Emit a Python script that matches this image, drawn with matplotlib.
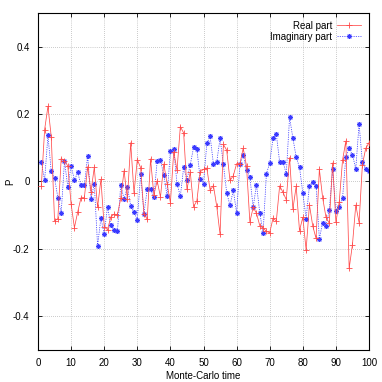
import numpy as np
import matplotlib
matplotlib.use('Agg')
import matplotlib.pyplot as plt

plt.rcParams['font.family'] = ['Liberation Sans Narrow', 'Liberation Sans', 'DejaVu Sans']

# Monte-Carlo time steps
t = np.arange(1, 101)

# real part of P
real_part = [-0.013, 0.154, 0.223, 0.133, -0.117, -0.110, 0.068, 0.062, 0.046, -0.067,
             -0.137, -0.090, -0.048, -0.048, 0.044, -0.030, 0.042, -0.077, 0.006, -0.134,
             -0.143, -0.105, -0.097, -0.098, -0.050, 0.032, -0.052, 0.115, -0.034, 0.065,
             0.041, -0.096, -0.112, 0.067, -0.040, 0.002, -0.046, 0.052, -0.007, -0.063,
             0.088, 0.034, 0.163, 0.144, -0.023, 0.028, -0.075, -0.057, 0.029, 0.036,
             0.040, -0.026, -0.012, -0.074, -0.157, 0.110, 0.093, 0.003, 0.017, 0.053,
             0.053, 0.099, 0.045, -0.120, -0.077, -0.094, -0.131, -0.138, -0.148, -0.152,
             -0.109, -0.117, -0.013, -0.032, -0.054, 0.071, -0.082, -0.014, -0.146, -0.106,
             -0.203, -0.069, -0.132, -0.169, 0.036, -0.049, -0.106, -0.124, 0.055, -0.121,
             -0.061, 0.063, 0.120, -0.258, -0.187, -0.070, -0.122, 0.050, 0.098, 0.115]

# imaginary part of P
imag_part = [0.057, 0.004, 0.137, 0.030, 0.010, -0.048, -0.093, 0.060, -0.016, 0.046,
             0.004, 0.027, -0.011, -0.011, 0.076, -0.052, -0.006, -0.191, -0.108, -0.156,
             -0.075, -0.130, -0.145, -0.147, -0.009, -0.053, -0.015, -0.072, -0.090, -0.114,
             0.022, -0.095, -0.023, -0.023, -0.047, 0.061, 0.063, 0.019, -0.042, 0.091,
             0.095, -0.007, -0.044, 0.042, 0.005, 0.050, 0.101, 0.095, 0.008, -0.006,
             0.113, 0.134, 0.051, 0.058, 0.128, 0.051, -0.033, -0.071, -0.026, -0.093,
             0.051, 0.079, 0.034, 0.014, -0.077, -0.009, -0.093, -0.152, 0.023, 0.054,
             0.130, 0.140, 0.058, 0.058, 0.023, 0.190, 0.129, 0.072, 0.042, -0.034,
             -0.110, -0.012, -0.001, -0.012, -0.170, -0.122, -0.131, -0.085, 0.036, -0.087,
             -0.076, -0.050, 0.073, 0.098, 0.079, 0.038, 0.171, 0.057, 0.038, 0.031]

xticks = list(range(0, 101, 10))
yticks = [-0.4, -0.2, 0, 0.2, 0.4]
ytick_labels = ['-0.4', '-0.2', '0', '0.2', '0.4']

fig = plt.figure(figsize=(3.82, 3.82), dpi=100)
ax = fig.add_axes([0.0995, 0.0838, 0.8665, 0.8822])

ax.plot(t, real_part, color='#ff4a4a', lw=0.55, marker='+', ms=4, mew=0.6,
        label='Real part', zorder=3)
ax.plot(t, imag_part, color='#3a3aff', lw=0.55, ls=(0, (1.5, 1.5)), marker=(8, 2, 0),
        ms=3.6, mew=0.7, label='Imaginary part', zorder=2)

ax.set_xlim(0, 100)
ax.set_ylim(-0.5, 0.5)
ax.set_xticks(xticks)
ax.set_yticks(yticks)
ax.set_yticklabels(ytick_labels)
ax.tick_params(direction='in', length=3, width=0.6, labelsize=7, top=True, right=True, pad=6)
ax.grid(True, color='#999999', ls=(0, (1, 2)), lw=0.5)
for s in ax.spines.values():
    s.set_linewidth(0.8)

ax.set_xlabel('Monte-Carlo time', fontsize=7, labelpad=2)
ax.set_ylabel('P', fontsize=7, rotation=90, va='center')
ax.yaxis.set_label_coords(-0.085, 0.5)

ax.legend(loc='upper right', frameon=False, markerfirst=False, fontsize=7,
          handlelength=2.5, borderaxespad=0.4, labelspacing=0.1, handletextpad=0.5)

plt.savefig('out.png', dpi=100)
